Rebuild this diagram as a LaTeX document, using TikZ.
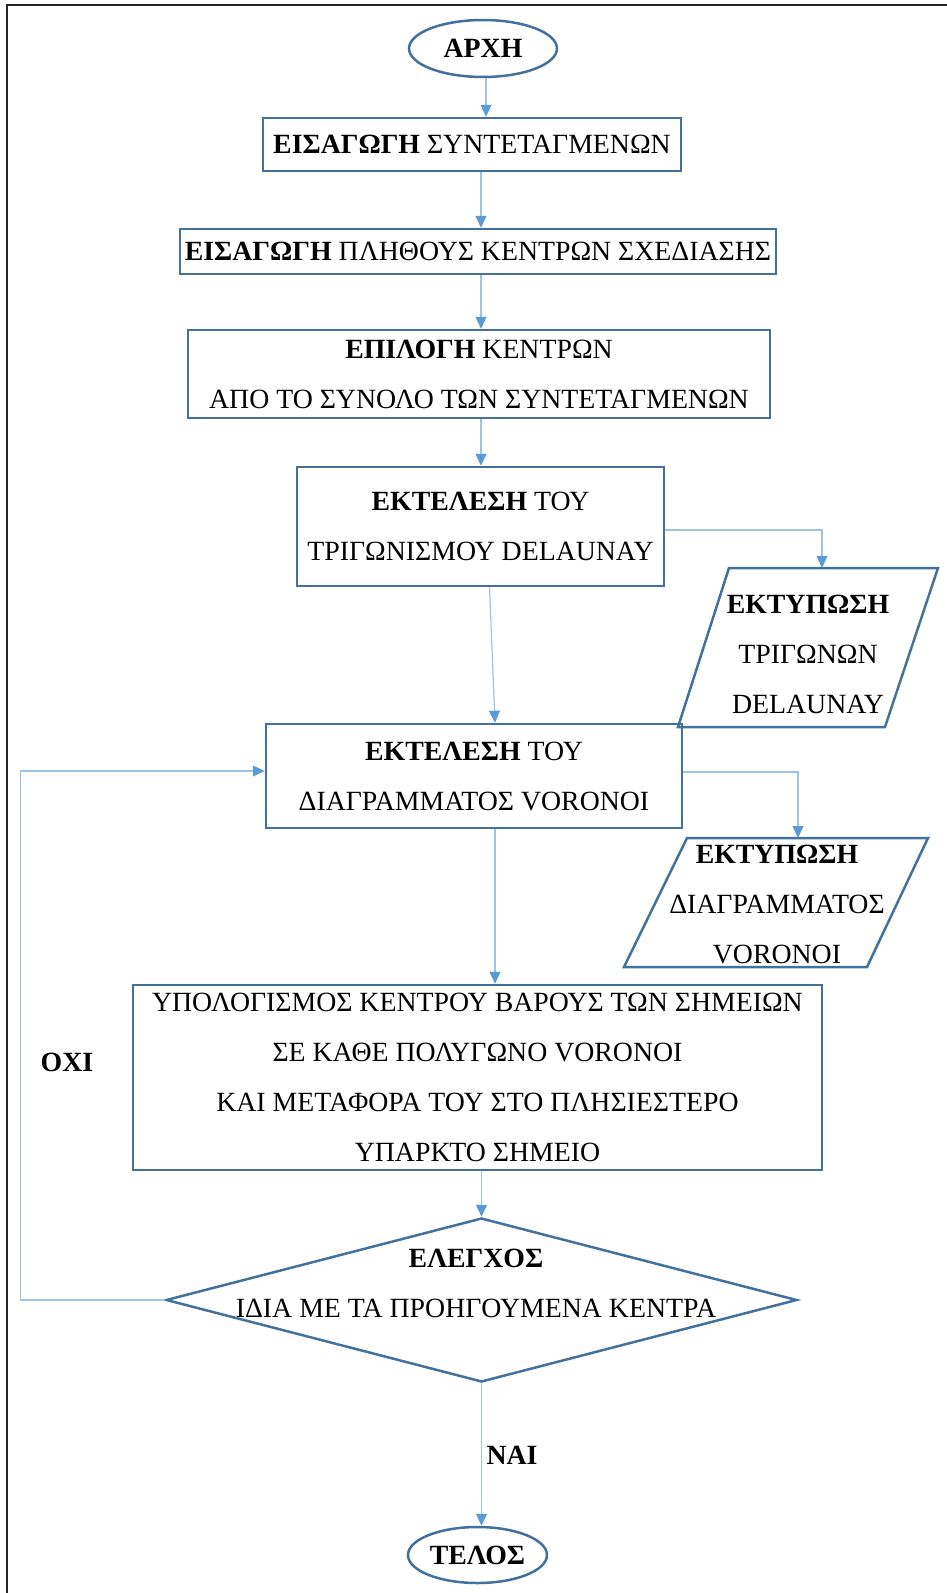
\documentclass[tikz,border=0pt]{standalone}
\usepackage{fontspec}
\setmainfont{Liberation Serif}
\usetikzlibrary{arrows.meta,calc,shapes.geometric}
\definecolor{boxblue}{HTML}{41719C}
\definecolor{arrblue}{HTML}{5B9BD5}
\definecolor{lineblue}{HTML}{9DC3E6}
\begin{document}
\begin{tikzpicture}[x=1pt,y=-1pt,
  txt/.style={inner sep=0pt, align=center, font=\fontsize{27.8}{50}\selectfont},
  box/.style={txt, draw=boxblue, line width=2.5pt},
  oval/.style={txt, ellipse, draw=boxblue, line width=2.5pt},
  outline/.style={draw=boxblue, line width=2.5pt, line join=miter},
  arr/.style={draw=lineblue, line width=1.2pt, -{Triangle[length=12pt,width=11pt,color=arrblue]}},
  lbl/.style={inner sep=0pt, font=\fontsize{27.8}{30}\selectfont\bfseries}]
\useasboundingbox (0,0) rectangle (947,1593);
% frame
\draw[line width=2.2pt, black!85] (7,1593) -- (7,5) -- (947,5);

% nodes
\node[oval, minimum width=148pt, minimum height=57pt] (start) at (483,48.5) {\bfseries ΑΡΧΗ};
\node[box, minimum width=418pt, minimum height=53pt] (b1) at (472,144.5) {{\bfseries ΕΙΣΑΓΩΓΗ} ΣΥΝΤΕΤΑΓΜΕΝΩΝ};
\node[box, minimum width=596pt, minimum height=45pt] (b2) at (478,251.5) {{\bfseries ΕΙΣΑΓΩΓΗ} ΠΛΗΘΟΥΣ ΚΕΝΤΡΩΝ ΣΧΕΔΙΑΣΗΣ};
\node[box, minimum width=582pt, minimum height=88pt] (b3) at (479,374) {{\bfseries ΕΠΙΛΟΓΗ} ΚΕΝΤΡΩΝ\\ΑΠΟ ΤΟ ΣΥΝΟΛΟ ΤΩΝ ΣΥΝΤΕΤΑΓΜΕΝΩΝ};
\node[box, minimum width=367pt, minimum height=119pt] (b4) at (480.5,526.5) {{\bfseries ΕΚΤΕΛΕΣΗ} ΤΟΥ\\ΤΡΙΓΩΝΙΣΜΟΥ DELAUNAY};
\node[box, minimum width=416pt, minimum height=104pt] (b5) at (474,776) {{\bfseries ΕΚΤΕΛΕΣΗ} ΤΟΥ\\ΔΙΑΓΡΑΜΜΑΤΟΣ VORONOI};
\node[box, minimum width=689pt, minimum height=185pt] (b6) at (477.5,1077.5) {ΥΠΟΛΟΓΙΣΜΟΣ ΚΕΝΤΡΟΥ ΒΑΡΟΥΣ ΤΩΝ ΣΗΜΕΙΩΝ\\ΣΕ ΚΑΘΕ ΠΟΛΥΓΩΝΟ VORONOI\\ΚΑΙ ΜΕΤΑΦΟΡΑ ΤΟΥ ΣΤΟ ΠΛΗΣΙΕΣΤΕΡΟ\\ΥΠΑΡΚΤΟ ΣΗΜΕΙΟ};
\node[diamond, outline, inner sep=0pt, minimum width=631pt, minimum height=164pt] (dia) at (481.5,1300) {};
\node[txt] (diat) at (476,1283) {\bfseries ΕΛΕΓΧΟΣ\\ΙΔΙΑ ΜΕ ΤΑ ΠΡΟΗΓΟΥΜΕΝΑ ΚΕΝΤΡΑ};
\node[oval, minimum width=139pt, minimum height=56pt] (end) at (477.5,1555) {\bfseries ΤΕΛΟΣ};

% parallelograms
\coordinate (p1a) at (678,727);
\coordinate (p1b) at (729,568);
\coordinate (p1c) at (938,568);
\coordinate (p1d) at (885,727);
\draw[outline] (p1a) -- (p1b) -- (p1c) -- (p1d) -- cycle;
\node[txt] (p1) at (808,654) {\bfseries ΕΚΤΥΠΩΣΗ\\ΤΡΙΓΩΝΩΝ\\DELAUNAY};
\coordinate (p1top) at (822,568);

\coordinate (p2a) at (624,967);
\coordinate (p2b) at (687,838);
\coordinate (p2c) at (928,838);
\coordinate (p2d) at (867,967);
\draw[outline] (p2a) -- (p2b) -- (p2c) -- (p2d) -- cycle;
\node[txt] (p2) at (777,904) {\bfseries ΕΚΤΥΠΩΣΗ\\ΔΙΑΓΡΑΜΜΑΤΟΣ\\VORONOI};
\coordinate (p2top) at (798,838);

% connectors
\draw[arr] ([xshift=3pt]start.south) -- ([xshift=3pt]start.south |- b1.north);
\draw[arr] ([xshift=9pt]b1.south) -- ([xshift=9pt]b1.south |- b2.north);
\draw[arr] ([xshift=3pt]b2.south) -- ([xshift=3pt]b2.south |- b3.north);
\draw[arr] ([xshift=2pt]b3.south) -- ([xshift=2pt]b3.south |- b4.north);
\draw[arr] ([xshift=9pt]b4.south) -- ([xshift=21pt]b5.north);
\draw[arr] ([yshift=-3.5pt]b4.east) -| (p1top);
\draw[arr] ([yshift=4pt]b5.east) -| (p2top);
\draw[arr] ([xshift=21pt]b5.south) -- ([xshift=17.5pt]b6.north);
\draw[arr] (b6.south -| dia.north) -- (dia.north);
\draw[arr] (dia.south) -- (dia.south |- end.north);
\draw[arr] (dia.west) -- ++(-144,0) |- ([yshift=5pt]b5.west);

% labels
\node[lbl] (yes) at (512,1455) {ΝΑΙ};
\node[lbl] (no) at (67,1062) {ΟΧΙ};
\end{tikzpicture}
\end{document}
